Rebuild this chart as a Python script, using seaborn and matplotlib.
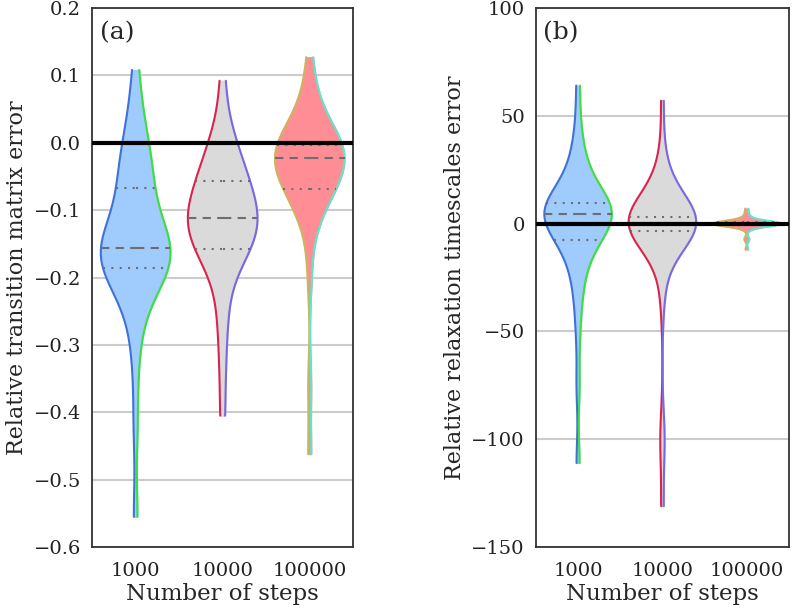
import numpy as np
import pandas as pd
import matplotlib
matplotlib.use("Agg")
import matplotlib.pyplot as plt
import seaborn as sns

steps = ["1000", "10000", "100000"]

# (a) relative transition matrix error, samples
tm_1000 = [-0.555, -0.42, -0.33, -0.28, -0.25, -0.23, -0.215, -0.205, -0.195, -0.19,
           -0.185, -0.182, -0.178, -0.175, -0.172, -0.168, -0.165, -0.162, -0.16, -0.158,
           -0.155, -0.15, -0.145, -0.138, -0.13, -0.12, -0.11, -0.095, -0.082, -0.07,
           -0.06, -0.05, -0.04, -0.03, -0.02, -0.005, 0.01, 0.03, 0.06, 0.108]
tm_10000 = [-0.405, -0.34, -0.29, -0.255, -0.225, -0.2, -0.185, -0.175, -0.167, -0.16,
            -0.156, -0.15, -0.145, -0.14, -0.135, -0.13, -0.125, -0.12, -0.116, -0.112,
            -0.11, -0.105, -0.1, -0.095, -0.09, -0.085, -0.078, -0.07, -0.063, -0.057,
            -0.055, -0.048, -0.04, -0.03, -0.02, -0.01, 0.0, 0.015, 0.04, 0.092]
tm_100000 = [-0.462, -0.36, -0.2, -0.14, -0.11, -0.095, -0.085, -0.08, -0.075, -0.072,
             -0.068, -0.063, -0.058, -0.052, -0.047, -0.042, -0.037, -0.032, -0.027, -0.023,
             -0.021, -0.019, -0.017, -0.015, -0.013, -0.011, -0.009, -0.007, -0.005, -0.004,
             -0.002, 0.005, 0.012, 0.02, 0.03, 0.04, 0.05, 0.065, 0.09, 0.127]

# (b) relative relaxation timescales error
ts_1000 = [-111, -75, -50, -36, -28, -22, -17, -13, -10.5, -8.5,
           -7, -5, -3, -1.5, 0, 1, 2, 3, 3.8, 4.4,
           4.6, 5.0, 5.5, 6, 6.5, 7, 7.5, 8, 8.5, 9,
           10.5, 13, 16, 19, 22, 25, 29, 35, 45, 64]
ts_10000 = [-131, -105, -95, -35, -22, -14, -9, -6, -4.5, -3.4,
            -3.2, -2.8, -2.4, -2.0, -1.6, -1.2, -0.8, -0.4, 0.0, 0.4,
            0.6, 0.9, 1.2, 1.5, 1.8, 2.1, 2.4, 2.6, 2.7, 2.8,
            3.5, 5, 7, 9.5, 12, 15, 19, 24, 32, 57]
ts_100000 = [-12, -7.5, -7, -3, -2, -1.5, -1.2, -1.0, -0.8, -0.7,
             -0.6, -0.5, -0.45, -0.4, -0.3, -0.25, -0.2, -0.15, -0.1, -0.05,
             0.0, 0.05, 0.1, 0.15, 0.2, 0.25, 0.3, 0.4, 0.5, 0.6,
             0.7, 0.8, 1.0, 1.2, 1.5, 2.0, 2.5, 3.5, 5, 7]

fill_colors = ["#a0cbfd", "#dadada", "#ff8d96"]
left_edges = ["#3d72da", "#d8244f", "#cdb45e"]
right_edges = ["#3ce03c", "#7b66e6", "#5de6cc"]


def long_frame(groups):
    rows = []
    for lab, vals in zip(steps, groups):
        for side in ["L", "R"]:
            for v in vals:
                rows.append((lab, side, v))
    return pd.DataFrame(rows, columns=["steps", "side", "err"])


def draw(ax, groups, bw):
    df = long_frame(groups)
    sns.violinplot(data=df, x="steps", y="err", hue="side", split=True,
                   order=steps, hue_order=["L", "R"], inner="quart", cut=0,
                   density_norm="width", bw_adjust=bw, linewidth=1.5,
                   legend=False, ax=ax)
    # recolour each half, outline only the curved side
    for coll in list(ax.collections):
        verts = coll.get_paths()[0].vertices
        xm = verts[:, 0].mean()
        i = int(round(xm))
        left = xm < i
        coll.set_facecolor(fill_colors[i])
        coll.set_edgecolor(fill_colors[i])
        coll.set_linewidth(0.8)
        curve = verts[np.abs(verts[:, 0] - i) > 1e-9]
        curve = curve[np.argsort(curve[:, 1])]
        ax.plot(curve[:, 0], curve[:, 1], lw=1.5, zorder=3,
                color=left_edges[i] if left else right_edges[i])
    for ln in ax.lines:
        if ln.get_color() in left_edges + right_edges:
            continue
        i = int(round(np.mean(ln.get_xdata())))
        y = ln.get_ydata()[0]
        ln.set_color("#6e6e6e")
        ln.set_linewidth(1.5)
        ln.set_zorder(4)
        if np.isclose(y, np.median(groups[i])):
            ln.set_linestyle((0, (4, 3)))
        else:
            ln.set_linestyle((0, (1, 3)))
    ax.axhline(0, color="black", lw=3, zorder=5)


sns.set_style("whitegrid")
plt.rcParams["font.family"] = ["DejaVu Serif"]

fig = plt.figure(figsize=(8.01, 6.12), dpi=100)
ax_a = fig.add_axes([0.115, 0.106, 0.326, 0.881])
ax_b = fig.add_axes([0.669, 0.106, 0.316, 0.881])

draw(ax_a, [tm_1000, tm_10000, tm_100000], 0.8)
draw(ax_b, [ts_1000, ts_10000, ts_100000], 0.75)

ax_a.set_ylim(-0.6, 0.2)
ax_a.set_yticks(np.arange(-0.6, 0.21, 0.1))
ax_a.set_ylabel("Relative transition matrix error", fontsize=16)
ax_b.set_ylim(-150, 100)
ax_b.set_yticks(np.arange(-150, 101, 50))
ax_b.set_ylabel("Relative relaxation timescales error", fontsize=16)

for ax, tag in [(ax_a, "(a)"), (ax_b, "(b)")]:
    ax.set_xlim(-0.5, 2.5)
    ax.set_xlabel("Number of steps", fontsize=16.5, labelpad=2)
    ax.xaxis.grid(False)
    ax.yaxis.grid(True, color="#cccccc", lw=1.5)
    ax.set_axisbelow(True)
    ax.tick_params(length=0, labelsize=14, pad=8, colors="#222222")
    ax.tick_params(axis="x", pad=11)
    for sp in ax.spines.values():
        sp.set_color("#333333")
        sp.set_linewidth(1.3)
    ax.text(0.03, 0.975, tag, transform=ax.transAxes, fontsize=18,
            va="top", ha="left", zorder=6)

fig.savefig("out.png", dpi=100)
